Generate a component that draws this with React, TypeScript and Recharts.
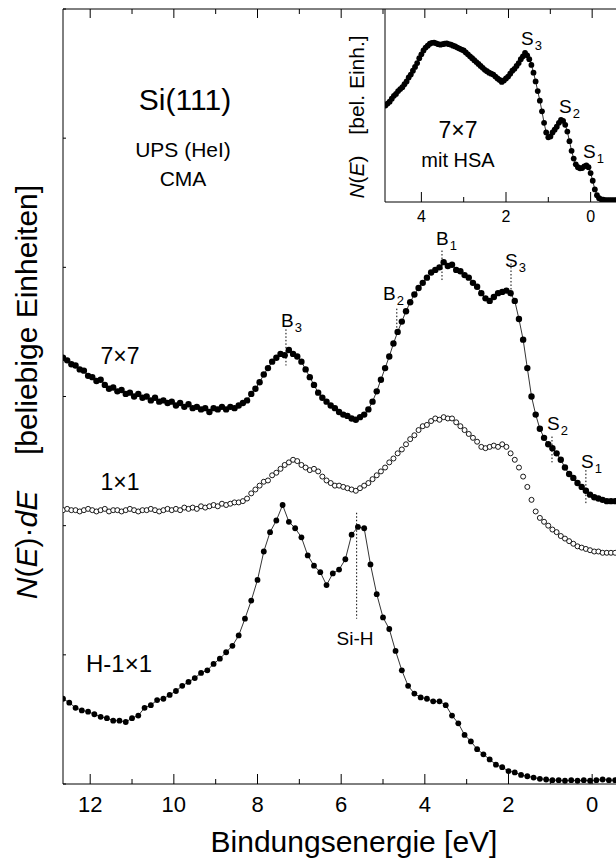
import React from "react";
import { ComposedChart, Line, XAxis, YAxis, ReferenceLine } from "recharts";

const FONT = "'Liberation Sans', Arial, Helvetica, sans-serif";

// binding-energy grid (eV) shared by the 7x7 and 1x1 spectra
const E_GRID = [
  12.65, 12.55, 12.45, 12.35, 12.25, 12.15, 12.05, 11.95, 11.85, 11.75,
  11.65, 11.55, 11.45, 11.35, 11.25, 11.15, 11.05, 10.95, 10.85, 10.75,
  10.65, 10.55, 10.45, 10.35, 10.25, 10.15, 10.05, 9.95, 9.85, 9.75,
  9.65, 9.55, 9.45, 9.35, 9.25, 9.15, 9.05, 8.95, 8.85, 8.75,
  8.65, 8.55, 8.45, 8.35, 8.25, 8.15, 8.05, 7.95, 7.85, 7.75,
  7.65, 7.55, 7.45, 7.35, 7.25, 7.15, 7.05, 6.95, 6.85, 6.75,
  6.65, 6.55, 6.45, 6.35, 6.25, 6.15, 6.05, 5.95, 5.85, 5.75,
  5.65, 5.55, 5.45, 5.35, 5.25, 5.15, 5.05, 4.95, 4.85, 4.75,
  4.65, 4.55, 4.45, 4.35, 4.25, 4.15, 4.05, 3.95, 3.85, 3.75,
  3.65, 3.55, 3.45, 3.35, 3.25, 3.15, 3.05, 2.95, 2.85, 2.75,
  2.65, 2.55, 2.45, 2.35, 2.25, 2.15, 2.05, 1.95, 1.85, 1.75,
  1.65, 1.55, 1.45, 1.35, 1.25, 1.15, 1.05, 0.95, 0.85, 0.75,
  0.65, 0.55, 0.45, 0.35, 0.25, 0.15, 0.05, -0.05, -0.15, -0.25,
  -0.35, -0.45, -0.55,
];

// N(E)·dE, Si(111) 7x7 (offset in arbitrary units)
const N_7X7 = [
  3.30, 3.28, 3.25, 3.24, 3.21, 3.20, 3.16, 3.15, 3.12, 3.13,
  3.09, 3.06, 3.07, 3.04, 3.05, 3.02, 3.03, 3.00, 3.02, 2.99,
  3.00, 2.97, 2.99, 2.96, 2.97, 2.95, 2.96, 2.93, 2.95, 2.92,
  2.94, 2.91, 2.92, 2.90, 2.91, 2.88, 2.91, 2.90, 2.92, 2.90,
  2.92, 2.91, 2.93, 2.95, 2.97, 3.02, 3.06, 3.11, 3.17, 3.22,
  3.27, 3.30, 3.33, 3.32, 3.36, 3.33, 3.31, 3.27, 3.21, 3.15,
  3.09, 3.03, 2.99, 2.96, 2.93, 2.91, 2.88, 2.86, 2.85, 2.83,
  2.82, 2.84, 2.86, 2.90, 2.96, 3.04, 3.13, 3.22, 3.31, 3.41,
  3.50, 3.58, 3.66, 3.73, 3.79, 3.84, 3.88, 3.92, 3.96, 3.98,
  4.00, 4.04, 4.01, 4.02, 3.98, 3.97, 3.94, 3.92, 3.88, 3.85,
  3.80, 3.76, 3.74, 3.77, 3.80, 3.81, 3.82, 3.80, 3.74, 3.60,
  3.44, 3.22, 3.00, 2.86, 2.75, 2.68, 2.63, 2.60, 2.56, 2.51,
  2.45, 2.40, 2.37, 2.33, 2.30, 2.27, 2.24, 2.22, 2.21, 2.20,
  2.19, 2.19, 2.19,
];

// N(E)·dE, Si(111) 1x1
const N_1X1 = [
  2.12, 2.13, 2.12, 2.12, 2.11, 2.12, 2.13, 2.12, 2.11, 2.12,
  2.13, 2.11, 2.12, 2.12, 2.11, 2.12, 2.13, 2.12, 2.11, 2.12,
  2.12, 2.13, 2.12, 2.11, 2.12, 2.13, 2.12, 2.13, 2.12, 2.14,
  2.13, 2.14, 2.13, 2.15, 2.14, 2.15, 2.16, 2.15, 2.17, 2.16,
  2.17, 2.18, 2.18, 2.19, 2.21, 2.25, 2.28, 2.31, 2.34, 2.35,
  2.39, 2.41, 2.44, 2.47, 2.49, 2.51, 2.50, 2.47, 2.45, 2.43,
  2.44, 2.42, 2.38, 2.35, 2.33, 2.31, 2.31, 2.30, 2.29, 2.28,
  2.27, 2.29, 2.31, 2.33, 2.36, 2.39, 2.42, 2.45, 2.49, 2.52,
  2.56, 2.59, 2.63, 2.67, 2.70, 2.74, 2.77, 2.78, 2.81, 2.83,
  2.82, 2.84, 2.83, 2.83, 2.80, 2.77, 2.74, 2.71, 2.68, 2.65,
  2.61, 2.60, 2.61, 2.62, 2.61, 2.63, 2.61, 2.56, 2.51, 2.45,
  2.38, 2.30, 2.20, 2.11, 2.06, 2.03, 2.00, 1.97, 1.95, 1.92,
  1.90, 1.88, 1.86, 1.84, 1.83, 1.82, 1.81, 1.80, 1.80, 1.79,
  1.79, 1.79, 1.79,
];

// hydrogen terminated surface, coarser energy steps
const E_H = [
  12.65, 12.5, 12.35, 12.2, 12.05, 11.9, 11.75, 11.6, 11.45, 11.3,
  11.15, 11.0, 10.85, 10.7, 10.55, 10.4, 10.25, 10.1, 9.95, 9.8,
  9.65, 9.5, 9.35, 9.2, 9.05, 8.9, 8.75, 8.6, 8.45, 8.3,
  8.15, 8.0, 7.85, 7.7, 7.55, 7.4, 7.25, 7.1, 6.95, 6.8,
  6.65, 6.5, 6.35, 6.2, 6.05, 5.9, 5.75, 5.6, 5.45, 5.3,
  5.15, 5.0, 4.85, 4.7, 4.55, 4.4, 4.25, 4.1, 3.95, 3.8,
  3.65, 3.5, 3.35, 3.2, 3.05, 2.9, 2.75, 2.6, 2.45, 2.3,
  2.15, 2.0, 1.85, 1.7, 1.55, 1.4, 1.25, 1.1, 0.95, 0.8,
  0.65, 0.5, 0.35, 0.2, 0.05, -0.1, -0.25, -0.4, -0.55,
];

const N_H1X1 = [
  0.66, 0.63, 0.59, 0.57, 0.56, 0.54, 0.52, 0.51, 0.49, 0.49,
  0.48, 0.51, 0.53, 0.59, 0.61, 0.65, 0.66, 0.69, 0.72, 0.76,
  0.79, 0.82, 0.86, 0.88, 0.93, 0.97, 1.02, 1.07, 1.15, 1.28,
  1.42, 1.58, 1.80, 1.95, 2.04, 2.16, 2.03, 1.98, 1.91, 1.77,
  1.69, 1.64, 1.54, 1.63, 1.66, 1.74, 1.93, 1.99, 1.98, 1.70,
  1.47, 1.29, 1.20, 1.03, 0.88, 0.76, 0.70, 0.67, 0.66, 0.64,
  0.64, 0.61, 0.53, 0.47, 0.38, 0.33, 0.27, 0.23, 0.19, 0.15,
  0.13, 0.10, 0.09, 0.07, 0.06, 0.05, 0.04, 0.035, 0.03, 0.03,
  0.025, 0.03, 0.025, 0.03, 0.025, 0.03, 0.035, 0.03, 0.03,
];

// inset: 7x7 measured with the hemispherical analyser
const E_HSA = [
  4.85, 4.8, 4.75, 4.7, 4.65, 4.6, 4.55, 4.5, 4.45, 4.4,
  4.35, 4.3, 4.25, 4.2, 4.15, 4.1, 4.05, 4.0, 3.95, 3.9,
  3.85, 3.8, 3.75, 3.7, 3.65, 3.6, 3.55, 3.5, 3.45, 3.4,
  3.35, 3.3, 3.25, 3.2, 3.15, 3.1, 3.05, 3.0, 2.95, 2.9,
  2.85, 2.8, 2.75, 2.7, 2.65, 2.6, 2.55, 2.5, 2.45, 2.4,
  2.35, 2.3, 2.25, 2.2, 2.15, 2.1, 2.05, 2.0, 1.95, 1.9,
  1.85, 1.8, 1.75, 1.7, 1.65, 1.6, 1.55, 1.5, 1.45, 1.4,
  1.35, 1.3, 1.25, 1.2, 1.15, 1.1, 1.05, 1.0, 0.95, 0.9,
  0.85, 0.8, 0.75, 0.7, 0.65, 0.6, 0.55, 0.5, 0.45, 0.4,
  0.35, 0.3, 0.25, 0.2, 0.15, 0.1, 0.05, 0, -0.05, -0.1,
  -0.15, -0.2, -0.25, -0.3, -0.35, -0.4, -0.45, -0.5, -0.55, -0.6,
];

const N_HSA = [
  0.50, 0.51, 0.52, 0.535, 0.55, 0.56, 0.575, 0.585, 0.595, 0.61,
  0.625, 0.645, 0.66, 0.68, 0.70, 0.72, 0.745, 0.765, 0.785, 0.80,
  0.81, 0.82, 0.825, 0.826, 0.822, 0.818, 0.815, 0.818, 0.82, 0.822,
  0.818, 0.815, 0.81, 0.806, 0.80, 0.795, 0.79, 0.785, 0.775, 0.765,
  0.755, 0.745, 0.735, 0.725, 0.715, 0.705, 0.695, 0.685, 0.678, 0.67,
  0.665, 0.66, 0.65, 0.64, 0.632, 0.622, 0.63, 0.64, 0.65, 0.665,
  0.68, 0.69, 0.705, 0.72, 0.74, 0.755, 0.772, 0.76, 0.74, 0.71,
  0.67, 0.625, 0.575, 0.525, 0.47, 0.41, 0.36, 0.335, 0.34, 0.36,
  0.375, 0.39, 0.41, 0.425, 0.42, 0.40, 0.365, 0.315, 0.265, 0.225,
  0.195, 0.18, 0.175, 0.176, 0.185, 0.19, 0.18, 0.15, 0.11, 0.065,
  0.035, 0.02, 0.014, 0.012, 0.01, 0.01, 0.01, 0.01, 0.01, 0.01,
];

const MAIN_TICKS = [12, 11, 10, 9, 8, 7, 6, 5, 4, 3, 2, 1, 0];
const INSET_TICKS = [4, 3, 2, 1, 0];
const Y_TICKS = [0, 1, 2, 3, 4, 5, 6];

// dotted markers at the peak positions: energy, upper and lower end
const PEAK_MARKS = [
  { E: 7.32, top: 3.52, bottom: 3.24 }, // B3
  { E: 4.67, top: 3.68, bottom: 3.52 }, // B2
  { E: 3.59, top: 4.13, bottom: 3.89 }, // B1
  { E: 1.94, top: 4.03, bottom: 3.77 }, // S3
  { E: 0.96, top: 2.69, bottom: 2.49 }, // S2
  { E: 0.15, top: 2.43, bottom: 2.17 }, // S1
  { E: 5.63, top: 2.1, bottom: 1.28 }, // Si-H
];

const toPoints = (es: number[], ns: number[]) =>
  es.map((E, i) => ({ E, v: ns[i] }));

const data7x7 = toPoints(E_GRID, N_7X7);
const data1x1 = toPoints(E_GRID, N_1X1);
const dataH = toPoints(E_H, N_H1X1);
const dataHsa = toPoints(E_HSA, N_HSA);

// ticks point into the frame, labels only on even energies
const bottomTick = (size: number, labelDy: number) => (props: any) => {
  const { x, y, payload } = props;
  const major = payload.value % 2 === 0;
  return (
    <g>
      <line x1={x} x2={x} y1={y} y2={y - (major ? 10 : 5)} stroke="#000" />
      {major && (
        <text
          x={x}
          y={y + labelDy}
          textAnchor="middle"
          fontSize={size}
          fontFamily={FONT}
          fill="#000"
        >
          {payload.value}
        </text>
      )}
    </g>
  );
};

const topTick = (props: any) => {
  const { x, y, payload } = props;
  const major = payload.value % 2 === 0;
  return (
    <line x1={x} x2={x} y1={y} y2={y + (major ? 9 : 5)} stroke="#000" />
  );
};

const leftTick = (props: any) => {
  const { x, y } = props;
  return <line x1={x} x2={x + 3} y1={y} y2={y} stroke="#000" />;
};

const PeakLabel = ({
  x,
  y,
  main,
  sub,
}: {
  x: number;
  y: number;
  main: string;
  sub: string;
}) => (
  <text x={x} y={y} fontSize={19} fontFamily={FONT} fill="#000">
    {main}
    <tspan fontSize={13} dy={5} dx={1}>
      {sub}
    </tspan>
  </text>
);

export default function App() {
  return (
    <div
      style={{
        position: "absolute",
        left: 0,
        top: 0,
        width: 616,
        height: 860,
        overflow: "hidden",
        background: "#fff",
      }}
    >
      <div style={{ position: "absolute", left: 0, top: 0 }}>
        <ComposedChart
          width={616}
          height={860}
          margin={{ top: 8, right: 0, bottom: 0, left: 62 }}
        >
          <XAxis
            xAxisId="b"
            type="number"
            dataKey="E"
            domain={[-0.57, 12.65]}
            reversed
            allowDataOverflow
            ticks={MAIN_TICKS}
            interval={0}
            tickLine={false}
            tickSize={0}
            tickMargin={0}
            height={76}
            stroke="#000"
            tick={bottomTick(22, 28)}
          />
          <XAxis
            xAxisId="t"
            orientation="top"
            type="number"
            dataKey="E"
            domain={[-0.57, 12.65]}
            reversed
            allowDataOverflow
            ticks={MAIN_TICKS}
            interval={0}
            tickLine={false}
            tickSize={0}
            tickMargin={0}
            height={1}
            stroke="#000"
            tick={topTick}
          />
          <YAxis
            yAxisId="l"
            type="number"
            domain={[0, 6]}
            allowDataOverflow
            ticks={Y_TICKS}
            interval={0}
            width={1}
            tickLine={false}
            tickSize={0}
            tickMargin={0}
            stroke="#000"
            tick={leftTick}
          />
          <Line
            xAxisId="b"
            yAxisId="l"
            data={data7x7}
            dataKey="v"
            type="linear"
            stroke="#000"
            strokeWidth={0.8}
            dot={{ r: 3.2, fill: "#000", stroke: "none" }}
            isAnimationActive={false}
          />
          <Line
            xAxisId="b"
            yAxisId="l"
            data={data1x1}
            dataKey="v"
            type="linear"
            stroke="none"
            dot={{ r: 2.5, fill: "#fff", stroke: "#000", strokeWidth: 0.9 }}
            isAnimationActive={false}
          />
          <Line
            xAxisId="b"
            yAxisId="l"
            data={dataH}
            dataKey="v"
            type="linear"
            stroke="#000"
            strokeWidth={0.8}
            dot={{ r: 2.9, fill: "#000", stroke: "none" }}
            isAnimationActive={false}
          />
          {PEAK_MARKS.map((m) => (
            <ReferenceLine
              key={m.E}
              xAxisId="b"
              yAxisId="l"
              segment={[
                { x: m.E, y: m.top },
                { x: m.E, y: m.bottom },
              ]}
              stroke="#000"
              strokeWidth={1}
              strokeDasharray="1.5 2"
            />
          ))}
        </ComposedChart>
      </div>

      {/* inset spectrum in the upper right corner */}
      <div style={{ position: "absolute", left: 384, top: 9 }}>
        <ComposedChart
          width={232}
          height={230}
          margin={{ top: 0, right: 0, bottom: 0, left: 0 }}
        >
          <XAxis
            type="number"
            dataKey="E"
            domain={[-0.6, 4.86]}
            reversed
            allowDataOverflow
            ticks={INSET_TICKS}
            interval={0}
            tickLine={false}
            tickSize={0}
            tickMargin={0}
            height={37}
            stroke="#000"
            tick={bottomTick(16, 20)}
          />
          <YAxis
            type="number"
            domain={[0, 1]}
            allowDataOverflow
            width={1}
            tick={false}
            tickLine={false}
            stroke="#000"
          />
          <Line
            data={dataHsa}
            dataKey="v"
            type="linear"
            stroke="#000"
            strokeWidth={0.8}
            dot={{ r: 2.9, fill: "#000", stroke: "none" }}
            isAnimationActive={false}
          />
        </ComposedChart>
      </div>

      <svg
        width={616}
        height={860}
        style={{ position: "absolute", left: 0, top: 0, pointerEvents: "none" }}
        fontFamily={FONT}
        fill="#000"
      >
        <text x={185} y={110} fontSize={30} textAnchor="middle">
          Si(111)
        </text>
        <text x={183} y={157} fontSize={21} textAnchor="middle">
          UPS (HeI)
        </text>
        <text x={183} y={186} fontSize={21} textAnchor="middle">
          CMA
        </text>

        <text x={120} y={364} fontSize={23} textAnchor="middle">
          7×7
        </text>
        <text x={120} y={490} fontSize={23} textAnchor="middle">
          1×1
        </text>
        <text x={119} y={672} fontSize={24} textAnchor="middle">
          H-1×1
        </text>
        <text x={355} y={645} fontSize={19} textAnchor="middle">
          Si-H
        </text>

        <PeakLabel x={281} y={327} main="B" sub="3" />
        <PeakLabel x={383} y={300} main="B" sub="2" />
        <PeakLabel x={436} y={245} main="B" sub="1" />
        <PeakLabel x={505} y={267} main="S" sub="3" />
        <PeakLabel x={547} y={430} main="S" sub="2" />
        <PeakLabel x={581} y={468} main="S" sub="1" />

        <PeakLabel x={521} y={45} main="S" sub="3" />
        <PeakLabel x={559} y={113} main="S" sub="2" />
        <PeakLabel x={583} y={158} main="S" sub="1" />
        <text x={458} y={138} fontSize={23} textAnchor="middle">
          7×7
        </text>
        <text x={458} y={167} fontSize={20} textAnchor="middle">
          mit HSA
        </text>

        {/* inset ordinate title */}
        <text
          x={364}
          y={177}
          fontSize={21}
          textAnchor="middle"
          transform="rotate(-90 364 177)"
        >
          <tspan fontStyle="italic">N</tspan>(<tspan fontStyle="italic">E</tspan>)
        </text>
        <text
          x={364}
          y={85}
          fontSize={21}
          textAnchor="middle"
          transform="rotate(-90 364 85)"
        >
          [bel. Einh.]
        </text>

        {/* main axis titles */}
        <text x={354} y={852} fontSize={30} textAnchor="middle">
          Bindungsenergie [eV]
        </text>
        <text
          x={37}
          y={545}
          fontSize={30}
          textAnchor="middle"
          transform="rotate(-90 37 545)"
        >
          <tspan fontStyle="italic">N</tspan>(<tspan fontStyle="italic">E</tspan>)·
          <tspan fontStyle="italic">dE</tspan>
        </text>
        <text
          x={37}
          y={320}
          fontSize={30}
          textAnchor="middle"
          transform="rotate(-90 37 320)"
        >
          [beliebige Einheiten]
        </text>
      </svg>
    </div>
  );
}
